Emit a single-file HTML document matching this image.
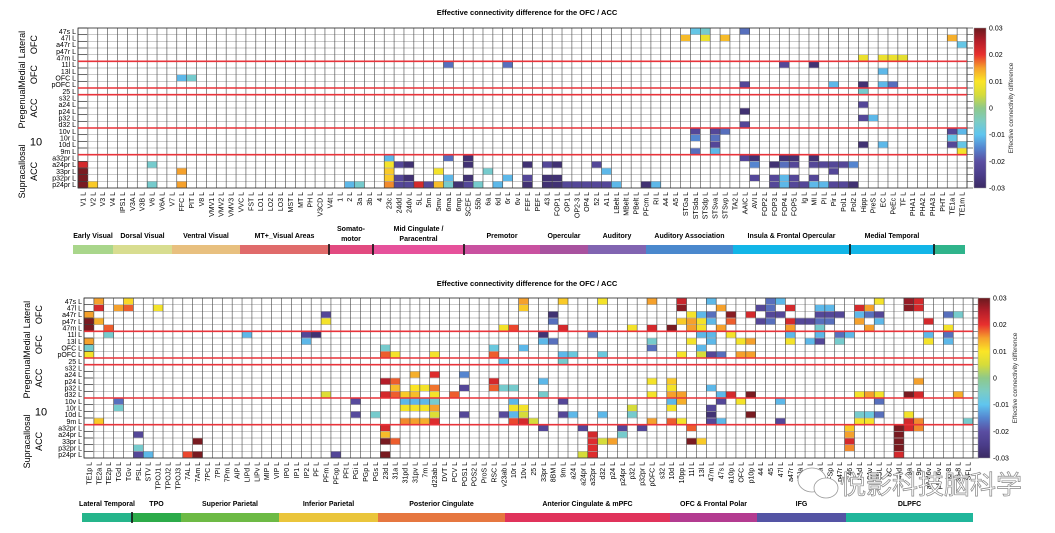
<!DOCTYPE html>
<html><head><meta charset="utf-8"><style>
html,body{margin:0;padding:0;background:#fff;}
svg{display:block;font-family:"Liberation Sans","Noto Sans CJK SC",sans-serif;}
</style></head><body>
<svg id="root" width="1055" height="533" viewBox="0 0 1055 533" xmlns="http://www.w3.org/2000/svg">
<text x="527" y="15" font-size="7.5" font-weight="bold" text-anchor="middle">Effective connectivity difference for the OFC / ACC</text>
<text x="527" y="286" font-size="7.5" font-weight="bold" text-anchor="middle">Effective connectivity difference for the OFC / ACC</text>
<g id="top"></g>
<g id="bot"></g>
<g>
<ellipse cx="812" cy="480" rx="14" ry="12" fill="#fff" stroke="#999" stroke-width="0.8"/>
<ellipse cx="826" cy="488" rx="12" ry="10" fill="#fff" stroke="#999" stroke-width="0.8"/>
<text x="840" y="494" font-size="26" fill="#fff" stroke="#888" stroke-width="0.7" font-family="'Noto Sans CJK SC',sans-serif">悦影科技脑科学</text>
</g>
</svg>
<script>
const rowLabels = ["47s L","47l L","a47r L","p47r L","47m L","11l L","13l L","OFC L","pOFC L","25 L","s32 L","a24 L","p24 L","p32 L","d32 L","10v L","10r L","10d L","9m L","a32pr L","a24pr L","33pr L","p32pr L","p24pr L"];
const topCols = ["V1","V2","V3","V4","IPS1","V3A","V3B","V6","V6A","V7","FFC","PIT","V8","VMV1","VMV2","VMV3","VVC","FST","LO1","LO2","LO3","MST","MT","PH","V3CD","V4t","1","2","3a","3b","4","23c","24dd","24dv","5L","5m","5mv","6ma","6mp","SCEF","55b","6a","6d","6r","6v","FEF","PEF","43","FOP1","OP1","OP2-3","OP4","52","A1","LBelt","MBelt","PBelt","PFcm","RI","A4","A5","STGa","STSda","STSdp","STSva","STSvp","TA2","AAIC","AVI","FOP2","FOP3","FOP4","FOP5","Ig","MI","PI","Pir","Pol1","Pol2","Hipp","PreS","EC","PeEc","TF","PHA1","PHA2","PHA3","PHT","TE1a","TE1m"];
const botCols = ["TE1p","TE2a","TE2p","TGd","TGv","PSL","STV","TPOJ1","TPOJ2","TPOJ3","7AL","7Am","7PC","7PI","7Pm","AIP","LIPd","LIPv","MIP","VIP","IP0","IP1","IP2","PF","PFm","PFop","PFt","PGi","PGp","PGs","23d","31a","31pd","31pv","7m","d23ab","DVT","PCV","POS1","POS2","ProS","RSC","v23ab","10r","10v","25","33pr","8BM","9m","a24","a24pr","a32pr","d32","p24","p24pr","p32","p32pr","pOFC","s32","10d","10pp","11l","13l","47m","47s","a10p","OFC","p10p","44","45","47l","a47r","IFJa","IFJp","IFSa","IFSp","p47r","46","8Ad","8Av","8BL","8C","9-46d","9a","9p","a9-46v","p9-46v","i6-8","s6-8","SFL"];
const colorTicks = [0.03,0.02,0.01,0,-0.01,-0.02,-0.03];
const tickText = ["0.03","0.02","0.01","0","-0.01","-0.02","-0.03"];
const topCells = [[5,37,-.017],[5,43,-.017],[7,10,-.011],[7,11,-.006],
[19,31,-.011],[19,37,-.017],[19,39,-.028],
[20,0,.022],[20,7,-.006],[20,31,.009],[20,32,-.022],[20,33,-.028],[20,39,-.028],
[21,0,.029],[21,10,.015],[21,31,.012],[21,36,.009],[21,41,-.006],
[22,0,.029],[22,31,.012],[22,32,-.022],[22,33,-.028],[22,37,-.011],[22,39,-.028],[22,43,-.011],
[23,0,.029],[23,1,.012],[23,7,-.006],[23,10,.015],[23,27,-.011],[23,28,-.006],[23,31,.016],[23,32,-.022],[23,33,-.022],[23,34,.022],[23,35,-.022],[23,36,.013],[23,37,-.006],[23,38,-.028],[23,39,-.022],[23,40,-.006],[23,42,-.011],
[0,62,-.009],[0,63,-.006],[0,67,-.017],[1,61,.013],[1,63,.008],[1,65,.013],[1,88,.014],[2,89,-.009],
[4,79,.008],[4,81,.008],[4,82,.008],[4,83,.007],[5,71,-.022],[5,74,-.028],[6,81,-.011],
[8,67,-.022],[8,76,-.011],[8,79,-.028],[8,81,-.011],[8,82,-.017],
[9,79,-.006],[11,79,-.022],[12,67,-.028],[13,79,-.022],[13,80,-.011],[14,67,-.022],
[15,62,-.022],[15,64,-.022],[15,65,-.017],[15,88,-.022],[15,89,-.011],
[16,62,-.015],[16,64,-.017],[16,88,-.009],
[17,64,-.022],[17,79,-.028],[17,81,-.011],[17,88,-.022],[17,89,-.009],
[18,62,-.017],[18,64,-.011],[18,89,.009],
[19,67,-.022],[19,68,-.028],[19,71,-.028],[19,72,-.028],[19,74,-.028],
[20,45,-.028],[20,47,-.022],[20,48,-.028],[20,52,-.022],[20,68,-.015],[20,70,-.028],[20,71,-.017],[20,72,-.022],[20,74,-.022],[20,75,-.022],[20,76,-.022],[20,77,-.022],[20,78,-.015],
[21,53,-.011],[21,76,-.022],
[22,45,-.022],[22,47,-.028],[22,48,-.028],[22,68,-.022],[22,70,-.022],[22,71,-.011],[22,72,-.022],[22,74,-.022],
[23,45,-.028],[23,47,-.028],[23,48,-.028],[23,49,-.022],[23,50,-.022],[23,51,-.022],[23,52,-.022],[23,53,-.022],[23,54,-.011],[23,57,-.028],[23,58,-.011],[23,70,-.022],[23,71,-.011],[23,72,-.022],[23,73,-.022],[23,74,-.011],[23,75,-.011],[23,76,-.022],[23,77,-.022],[23,78,-.028]];
const botCells = [[0,1,.015],[0,4,.011],[1,1,.022],[1,3,.015],[1,4,.018],[1,7,.009],
[2,0,.015],[2,24,-.022],[3,0,.029],[3,1,.014],[3,24,.009],[4,0,.029],[4,2,.018],[4,42,.009],[4,43,.019],
[5,2,-.006],[5,16,-.011],[5,22,-.022],[5,23,-.028],[6,0,.015],[6,22,-.011],
[7,0,-.006],[7,30,-.006],[7,41,-.008],[7,44,-.011],
[8,0,.009],[8,30,.018],[8,31,.009],[8,35,.009],[8,41,.018],[9,42,-.01],
[11,33,.014],[11,35,.021],[11,38,-.015],[12,30,.025],[12,31,.018],[12,41,.022],
[13,31,.013],[13,33,.01],[13,34,.009],[13,35,.017],[13,38,-.022],[13,41,.018],[13,42,-.006],[13,43,-.006],
[14,24,.006],[14,30,.022],[14,31,.018],[14,32,.012],[14,33,.013],[14,35,.009],[14,37,.018],
[15,3,-.017],[15,27,-.021],[15,32,-.011],[15,33,-.011],[15,34,-.011],[15,35,-.006],[15,43,-.011],
[16,3,-.006],[16,32,.009],[16,33,.009],[16,34,.009],[16,35,.015],[16,43,.009],
[17,27,-.021],[17,29,-.006],[17,35,.006],[17,38,-.022],[17,42,-.021],[17,43,-.011],
[18,1,.012],[18,32,.016],[18,33,.015],[18,34,.014],[18,35,.021],[18,43,.019],
[19,30,.022],[20,5,-.022],[20,30,.013],[21,11,.029],[21,30,.029],[21,31,.018],
[22,5,-.006],[23,5,-.022],[23,6,-.011],[23,10,.019],[23,11,.029],[23,25,-.022],[23,30,.029],
[0,44,.015],[0,48,.012],[0,52,.009],[0,57,.015],[0,60,.023],[0,63,-.011],[0,69,-.017],[0,70,-.011],[0,80,.009],[0,83,.027],[0,84,.022],
[1,44,.012],[1,60,.028],[1,64,.015],[1,68,-.022],[1,69,-.017],[1,71,.022],[1,74,-.011],[1,75,-.011],[1,78,.022],[1,79,.015],[1,83,.028],[1,84,.022],
[2,47,-.028],[2,61,.009],[2,62,-.011],[2,63,-.017],[2,65,.028],[2,67,.022],[2,69,-.022],[2,70,-.022],[2,74,-.022],[2,75,-.022],[2,76,-.022],[2,78,-.011],[2,79,-.017],[2,80,-.022],[2,87,-.017],[2,88,-.006],
[3,47,-.017],[3,60,.012],[3,61,.015],[3,62,.009],[3,63,-.011],[3,65,.018],[3,68,-.022],[3,69,-.017],[3,71,.022],[3,72,-.022],[3,73,-.022],[3,74,-.017],[3,75,-.017],[3,78,.015],[3,80,-.011],[3,85,.022],
[4,48,.022],[4,55,.009],[4,57,.022],[4,59,.029],[4,61,.015],[4,62,.009],[4,64,.015],[4,71,.015],[4,74,-.006],[4,79,.015],[4,87,.009],
[5,46,-.028],[5,51,-.017],[5,62,-.011],[5,63,-.011],[5,65,.009],[5,71,-.011],[5,74,-.011],[5,76,-.017],[5,77,-.011],[5,85,-.011],[5,87,-.017],
[6,46,-.011],[6,47,-.017],[6,57,-.006],[6,61,.009],[6,63,-.011],[6,66,.009],[6,67,.015],[6,71,.009],[6,73,-.011],[6,74,-.022],[6,76,-.006],[6,85,.009],[6,87,-.011],
[7,57,-.017],[7,62,-.011],
[8,48,-.011],[8,49,-.008],[8,52,-.008],[8,60,.009],[8,62,.005],[8,63,-.022],[8,64,-.017],[8,66,.015],[8,67,.015],
[9,48,-.006],[12,46,-.011],[12,57,.009],[12,59,.012],[12,84,.015],[13,59,.009],[13,63,-.011],
[14,46,-.006],[14,57,.009],[14,59,.015],[14,60,.015],[14,64,-.011],[14,65,.022],[14,67,.029],[14,78,.009],[14,79,.015],[14,80,.009],[14,83,.029],[14,84,.022],[14,88,.014],
[15,48,-.022],[15,59,-.011],[15,60,.014],[15,64,-.022],[15,66,.009],[15,70,-.011],[15,80,-.017],
[16,44,.009],[16,55,.005],[16,59,.009],[16,63,-.022],
[17,44,.005],[17,48,-.022],[17,49,-.011],[17,52,-.011],[17,55,-.006],[17,63,-.028],[17,67,.029],[17,78,-.006],[17,79,-.008],[17,80,-.017],[17,83,.009],
[18,44,.022],[18,45,.005],[18,57,.015],[18,59,.018],[18,60,.009],[18,63,-.022],[18,64,-.011],[18,70,-.022],[18,78,.009],[18,79,.009],[18,83,.022],[18,84,.016],[18,89,-.006],
[19,46,-.022],[19,50,-.022],[19,54,-.022],[19,56,-.022],[19,61,.018],[19,77,.012],[19,82,.029],[19,83,.022],[19,84,.016],
[20,51,.022],[20,54,-.006],[20,77,.015],[20,82,.029],
[21,51,.021],[21,52,.005],[21,53,.015],[21,61,.029],[21,62,.012],[21,77,.022],[21,82,.029],
[22,51,.021],[22,77,.016],[22,82,.029],[23,50,.005],[23,51,.021],[23,82,.022]];
const topCats = ["Early Visual","Dorsal Visual","Ventral Visual","MT+_Visual Areas","Somato-|motor","Mid Cingulate /|Paracentral","Premotor","Opercular","Auditory","Auditory Association","Insula & Frontal Opercular","Medial Temporal",""];
const botCats = ["Lateral Temporal","TPO","Superior Parietal","Inferior Parietal","Posterior Cingulate","Anterior Cingulate & mPFC","OFC & Frontal Polar","IFG","DLPFC"];

const NS="http://www.w3.org/2000/svg";
function mk(p,t,a){const e=document.createElementNS(NS,t);for(const k in a)e.setAttribute(k,a[k]);p.appendChild(e);return e;}
const stops=[[-.03,[59,42,99]],[-.025,[75,61,138]],[-.02,[90,78,162]],[-.015,[85,133,207]],[-.01,[95,197,239]],[-.005,[124,204,196]],[0,[142,201,138]],[.005,[214,220,58]],[.01,[251,229,38]],[.015,[245,161,44]],[.02,[232,48,46]],[.025,[181,30,42]],[.03,[106,26,31]]];
function cmap(v){v=Math.max(-.03,Math.min(.03,v));for(let i=0;i<stops.length-1;i++){const a=stops[i],b=stops[i+1];if(v<=b[0]){const t=(v-a[0])/(b[0]-a[0]);const c=a[1].map((x,j)=>Math.round(x+(b[1][j]-x)*t));return`rgb(${c})`;}}return"rgb(106,26,31)";}

function chart(g,cfg){
  const {x0,x1,y0,y1,cols,cells,cb,cats,catX,catColors,dividers,barY,groupX}=cfg;
  const n=cols.length,cw=(x1-x0)/n,rh=(y1-y0)/rowLabels.length;
  const xs=c=>x0+c*cw, ys=r=>y0+r*rh;
  mk(g,'rect',{x:x0,y:y0,width:x1-x0,height:y1-y0,fill:'#fff'});
  cells.forEach(d=>{const e=mk(g,'rect',{x:xs(d[1]),y:ys(d[0]),width:cw,height:rh,fill:cmap(d[2])});
    
    });
  for(let r=0;r<=rowLabels.length;r++){mk(g,'line',{x1:x0,x2:x1+6,y1:ys(r),y2:ys(r),stroke:'#aaa','stroke-width':0.7});
    mk(g,'line',{x1:x0,x2:x0+9,y1:ys(r),y2:ys(r),stroke:'#333','stroke-width':0.7});
    mk(g,'line',{x1:x1,x2:x1+6,y1:ys(r),y2:ys(r),stroke:'#333','stroke-width':0.5});}
  for(let c=0;c<=n;c++)mk(g,'line',{x1:xs(c),x2:xs(c),y1:y0,y2:y1,stroke:'#444','stroke-width':0.6});
  mk(g,'rect',{x:x0,y:y0,width:x1-x0,height:y1-y0,fill:'none',stroke:'#333','stroke-width':0.8});
  [5,9,10,15,19].forEach(r=>{const e=mk(g,'line',{x1:x0,x2:x1,y1:ys(r),y2:ys(r),stroke:'#e8333a','stroke-width':1.6});
    });
  rowLabels.forEach((l,i)=>{const t=mk(g,'text',{x:x0-2,y:ys(i)+rh/2+2.5,'font-size':7,'text-anchor':'end'});t.textContent=l;
    });
  cols.forEach((l,i)=>{const cx=xs(i)+cw/2+2.5;const t=mk(g,'text',{x:cx,y:y1+4,'font-size':7,'text-anchor':'end',transform:`rotate(-90 ${cx} ${y1+4})`});t.textContent=l+' L';
    });
  const groups=[["Lateral","OFC",0,5],["Medial","OFC",5,9],["Pregenual","ACC",9,15],["Supracallosal","ACC",19,24]];
  groups.forEach(gr=>{const cy=(ys(gr[2])+ys(gr[3]))/2;[[gr[0],groupX],[gr[1],groupX+12]].forEach(p=>{
    const t=mk(g,'text',{x:p[1],y:cy,'font-size':9,'text-anchor':'middle',transform:`rotate(-90 ${p[1]} ${cy})`});t.textContent=p[0];
    });});
  const t10=mk(g,'text',{x:groupX+11,y:(ys(15)+ys(19))/2+4,'font-size':11,'text-anchor':'middle'});t10.textContent='10';
  
  const cbh=y1-y0;const grad='grad'+cb;
  const defs=mk(g,'defs',{});const lg=mk(defs,'linearGradient',{id:grad,x1:0,y1:1,x2:0,y2:0});
  stops.forEach(s=>mk(lg,'stop',{offset:(s[0]+.03)/.06,'stop-color':cmap(s[0])}));
  const cbr=mk(g,'rect',{x:cb,y:y0,width:12,height:cbh,fill:`url(#${grad})`,stroke:'#999','stroke-width':0.5});
  
  const cyv=v=>y0+(0.03-v)/0.06*cbh;
  colorTicks.forEach((v,i)=>{const t=mk(g,'text',{x:cb+15,y:cyv(v)+2.5,'font-size':7});t.textContent=tickText[i];
    });
  const lx=cb+39,ly=(y0+y1)/2;const ct=mk(g,'text',{x:lx,y:ly,'font-size':6.5,'text-anchor':'middle',fill:'#333',transform:`rotate(-90 ${lx} ${ly})`});
  ct.textContent='Effective connectivity difference';
  cats.forEach((c,i)=>{const a=catX[i],b=catX[i+1];const e=mk(g,'rect',{x:a,y:barY,width:b-a,height:9,fill:catColors[i]});
    
    const parts=c.split('|');parts.forEach((p,k)=>{const t=mk(g,'text',{x:(a+b)/2,y:barY-(parts.length>1?14-k*10:7),'font-size':7,'font-weight':'bold','text-anchor':'middle'});t.textContent=p;
      });});
  dividers.forEach(x=>mk(g,'rect',{x:x-0.8,y:barY-1,width:1.6,height:11,fill:'#111'}));
}
chart(document.getElementById('top'),{x0:78,x1:967,y0:28,y1:188,cols:topCols,cells:topCells,cb:974,groupX:25,
  cats:topCats,catX:[73,113,172,240,329,373,464,540,588,646,733,850,934,965],
  catColors:["#a9d68b","#d8dd90","#e8c07f","#e06b6b","#e24a80","#e6519b","#c951a0","#a8529f","#8164b1","#4a88cd","#12b5e7","#12b5e7","#2fb48b"],
  dividers:[329,373,464,850,934],barY:245});
chart(document.getElementById('bot'),{x0:84,x1:973,y0:298,y1:458,cols:botCols,cells:botCells,cb:978,groupX:30,
  cats:botCats,catX:[82,132,181,279,378,505,670,757,846,973],
  catColors:["#25b58b","#2cab4a","#6dba45","#eac53b","#e67740","#e0335b","#b33b90","#5454a4","#20b69b"],
  dividers:[132],barY:513});
</script>
</body></html>
